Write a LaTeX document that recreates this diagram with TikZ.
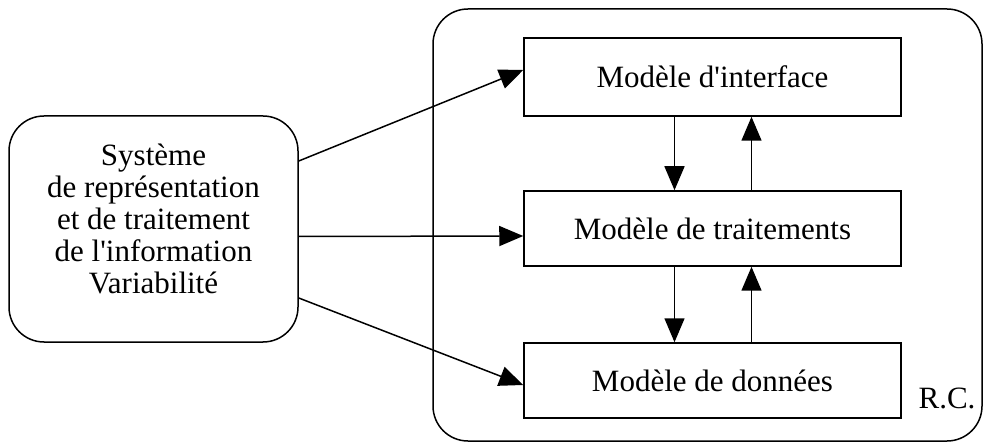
\documentclass[tikz,border=0pt]{standalone}
\usepackage{fontspec}
\setmainfont{Liberation Serif}
\usetikzlibrary{arrows.meta,positioning}

\begin{document}
\begin{tikzpicture}[x=1pt,y=-1pt,
box/.style={draw,line width=1.5pt,minimum width=377pt,inner sep=0pt,font=\fontsize{31}{32}\selectfont},
roundbox/.style={draw,line width=1.5pt,rounded corners=35pt,inner sep=0pt},
flow/.style={-{Triangle[length=24pt,width=20pt]},line width=1.5pt}]
\useasboundingbox (0,0) rectangle (984,443);
% container and source
\node[roundbox,minimum width=549pt,minimum height=432pt] (rc) at (707.5,225) {};
\node[anchor=base,font=\fontsize{31}{32}\selectfont] (rclabel) at (947,408) {R.C.};
\node[roundbox,minimum width=289pt,minimum height=226pt] (sys) at (153.5,229) {};
\node[align=center,font=\fontsize{31}{32}\selectfont] (systxt) at (153.5,219) {Système\\de représentation\\et de traitement\\de l\textquotesingle information\\Variabilité};
% the three models
\node[box,minimum height=78pt] (ifc) at (712.5,77) {Modèle d\textquotesingle interface};
\node[box,minimum height=75pt] (trt) at (712.5,228.5) {Modèle de traitements};
\node[box,minimum height=75pt] (don) at (712.5,380.5) {Modèle de données};
\draw[flow] ([yshift=68pt]sys.east) -- ([yshift=7pt]ifc.west);
\draw[flow] ([yshift=-7.5pt]sys.east) -- ([yshift=-7.5pt]trt.west);
\draw[flow] ([yshift=-69pt]sys.east) -- ([yshift=-4.5pt]don.west);
\draw[flow] ([xshift=-38pt]ifc.south) -- ([xshift=-38pt]trt.north);
\draw[flow] ([xshift=39pt]trt.north) -- ([xshift=39pt]ifc.south);
\draw[flow] ([xshift=-38pt]trt.south) -- ([xshift=-38pt]don.north);
\draw[flow] ([xshift=39pt]don.north) -- ([xshift=39pt]trt.south);
\end{tikzpicture}
\end{document}
